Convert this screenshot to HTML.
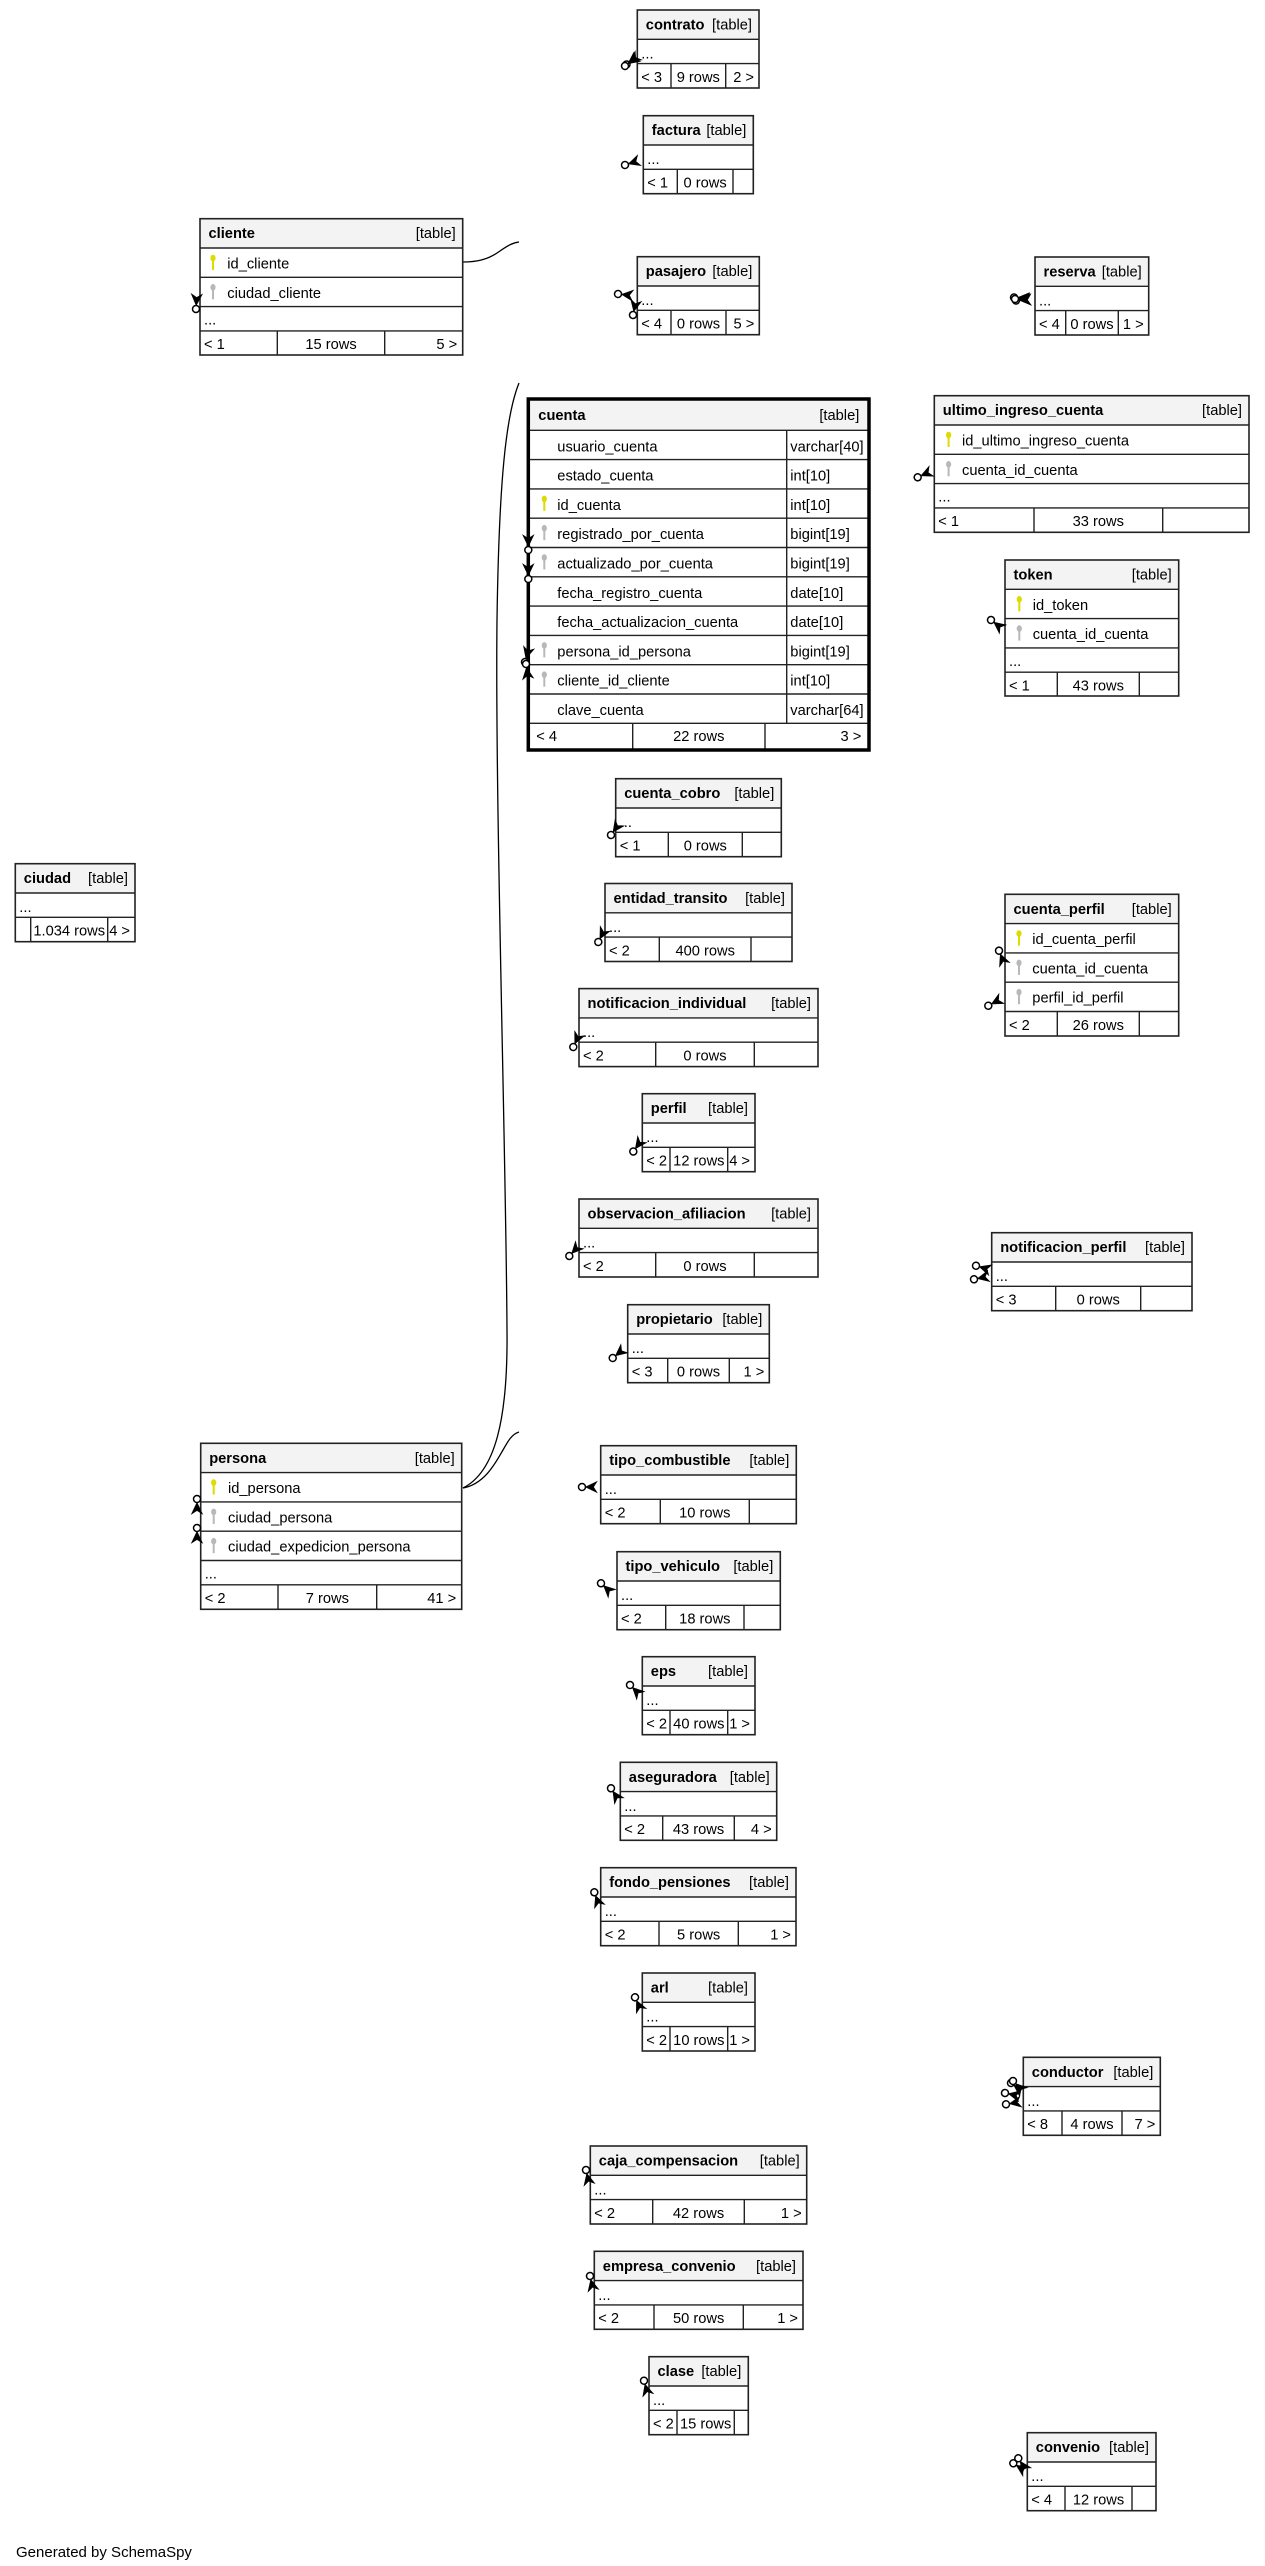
<!DOCTYPE html>
<html>
<head>
<meta charset="utf-8">
<style>
html,body{margin:0;padding:0;background:#fff;}
svg{display:block;}
text{font-family:"Liberation Sans",Arial,sans-serif;font-size:14.67px;fill:#000;}
.n{font-weight:bold;}
.e{text-anchor:end;}
.m{text-anchor:middle;}
.bg{fill:#fff;stroke:none;}
.hd{fill:#f3f3f3;stroke:none;}
.ln{fill:none;stroke:#222;stroke-width:1.4;}
.bx{fill:none;stroke:#222;stroke-width:1.6;}
.bxk{fill:none;stroke:#000;stroke-width:3.5;}
.cv{fill:none;stroke:#000;stroke-width:1.3;}
</style>
</head>
<body>
<svg width="1265" height="2566" viewBox="0 0 1265 2566" xmlns="http://www.w3.org/2000/svg">
<defs>
<g id="pk"><ellipse cx="0" cy="10" rx="2.6" ry="3.3" fill="#dcdc00"/><rect x="-1" y="12" width="2" height="10" fill="#dcdc00"/></g>
<g id="fk"><ellipse cx="0" cy="10" rx="2.6" ry="3.3" fill="#b8b8b8"/><rect x="-1" y="12" width="2" height="10" fill="#b8b8b8"/></g>
<g id="mk"><circle r="3.5" fill="#fff" stroke="#000" stroke-width="1.5"/><path d="M3.5,0L15,-5.5L11.5,0L15,5.5Z" fill="#000" stroke="#000" stroke-width="0.6"/></g>
</defs>
<rect width="1265" height="2566" fill="#fff"/>

<!-- curves -->
<path class="cv" d="M463,262 C478,262 488,259 497,253 C506,247 511,243 519,242"/>
<path class="cv" d="M519,383 C506,415 499,480 497,620 C495,800 506,1150 507,1330 C508,1420 495,1472 463,1488"/>
<path class="cv" d="M463,1488 C485,1484 496,1462 503,1450 C508,1441 512,1434 519,1432"/>

<!-- contrato -->
<g transform="translate(637.3,10)">
<rect class="bg" width="121.7" height="78"/><rect class="hd" width="121.7" height="29.3"/>
<path class="ln" d="M0,29.3H121.7M0,53.6H121.7M33.7,53.6V78M88.4,53.6V78"/>
<rect class="bx" width="121.7" height="78"/>
<text class="n" x="8.5" y="19.5">contrato</text><text class="e" x="114.7" y="19.5">[table]</text>
<text x="4" y="48.5">...</text>
<text x="4" y="71.8">&lt; 3</text><text class="m" x="61" y="71.8">9 rows</text><text class="e" x="116.7" y="71.8">2 &gt;</text>
</g>

<!-- factura -->
<g transform="translate(643.3,115.7)">
<rect class="bg" width="110" height="78"/><rect class="hd" width="110" height="29.3"/>
<path class="ln" d="M0,29.3H110M0,53.6H110M34,53.6V78M89.7,53.6V78"/>
<rect class="bx" width="110" height="78"/>
<text class="n" x="8.5" y="19.5">factura</text><text class="e" x="103" y="19.5">[table]</text>
<text x="4" y="48.5">...</text>
<text x="4" y="71.8">&lt; 1</text><text class="m" x="61.85" y="71.8">0 rows</text>
</g>

<!-- pasajero -->
<g transform="translate(637.3,256.7)">
<rect class="bg" width="122" height="78"/><rect class="hd" width="122" height="29.3"/>
<path class="ln" d="M0,29.3H122M0,53.6H122M33.7,53.6V78M88.7,53.6V78"/>
<rect class="bx" width="122" height="78"/>
<text class="n" x="8.5" y="19.5">pasajero</text><text class="e" x="115" y="19.5">[table]</text>
<text x="4" y="48.5">...</text>
<text x="4" y="71.8">&lt; 4</text><text class="m" x="61.2" y="71.8">0 rows</text><text class="e" x="117" y="71.8">5 &gt;</text>
</g>

<!-- reserva -->
<g transform="translate(1035,257)">
<rect class="bg" width="113.7" height="78"/><rect class="hd" width="113.7" height="29.3"/>
<path class="ln" d="M0,29.3H113.7M0,53.6H113.7M30.7,53.6V78M83.3,53.6V78"/>
<rect class="bx" width="113.7" height="78"/>
<text class="n" x="8.5" y="19.5">reserva</text><text class="e" x="106.7" y="19.5">[table]</text>
<text x="4" y="48.5">...</text>
<text x="4" y="71.8">&lt; 4</text><text class="m" x="57" y="71.8">0 rows</text><text class="e" x="108.7" y="71.8">1 &gt;</text>
</g>

<!-- cliente -->
<g transform="translate(200,218.7)">
<rect class="bg" width="262.7" height="136.3"/><rect class="hd" width="262.7" height="29.3"/>
<path class="ln" d="M0,29.3H262.7M0,58.6H262.7M0,87.9H262.7M0,112.2H262.7M77.3,112.2V136.3M184.7,112.2V136.3"/>
<rect class="bx" width="262.7" height="136.3"/>
<text class="n" x="8.5" y="19.5">cliente</text><text class="e" x="255.7" y="19.5">[table]</text>
<use href="#pk" x="13" y="29.3"/><text x="27.3" y="49.8">id_cliente</text>
<use href="#fk" x="13" y="58.6"/><text x="27.3" y="79.1">ciudad_cliente</text>
<text x="4" y="106">...</text>
<text x="4" y="130.3">&lt; 1</text><text class="m" x="131" y="130.3">15 rows</text><text class="e" x="257.2" y="130.3">5 &gt;</text>
</g>

<!-- cuenta -->
<g transform="translate(528.3,399)">
<rect class="bg" width="340.7" height="351"/><rect class="hd" width="340.7" height="31.3"/>
<path class="ln" stroke="#000" d="M0,31.3H340.7M0,60.6H340.7M0,89.9H340.7M0,119.2H340.7M0,148.5H340.7M0,177.8H340.7M0,207.1H340.7M0,236.4H340.7M0,265.7H340.7M0,295H340.7M0,324.3H340.7M258.4,31.3V324.3M104.4,324.3V351M236.7,324.3V351"/>
<rect class="bxk" width="340.7" height="351"/>
<text class="n" x="10" y="21">cuenta</text><text class="e" x="331" y="21">[table]</text>
<text x="29" y="52.3">usuario_cuenta</text><text x="262" y="52.3">varchar[40]</text>
<text x="29" y="81.6">estado_cuenta</text><text x="262" y="81.6">int[10]</text>
<use href="#pk" x="16" y="89.9"/><text x="29" y="110.9">id_cuenta</text><text x="262" y="110.9">int[10]</text>
<use href="#fk" x="16" y="119.2"/><text x="29" y="140.2">registrado_por_cuenta</text><text x="262" y="140.2">bigint[19]</text>
<use href="#fk" x="16" y="148.5"/><text x="29" y="169.5">actualizado_por_cuenta</text><text x="262" y="169.5">bigint[19]</text>
<text x="29" y="198.8">fecha_registro_cuenta</text><text x="262" y="198.8">date[10]</text>
<text x="29" y="228.1">fecha_actualizacion_cuenta</text><text x="262" y="228.1">date[10]</text>
<use href="#fk" x="16" y="236.4"/><text x="29" y="257.4">persona_id_persona</text><text x="262" y="257.4">bigint[19]</text>
<use href="#fk" x="16" y="265.7"/><text x="29" y="286.7">cliente_id_cliente</text><text x="262" y="286.7">int[10]</text>
<text x="29" y="316">clave_cuenta</text><text x="262" y="316">varchar[64]</text>
<text x="8" y="342">&lt; 4</text><text class="m" x="170.5" y="342">22 rows</text><text class="e" x="333" y="342">3 &gt;</text>
</g>

<!-- ultimo_ingreso_cuenta -->
<g transform="translate(934.3,395.7)">
<rect class="bg" width="314.7" height="136.6"/><rect class="hd" width="314.7" height="29.3"/>
<path class="ln" d="M0,29.3H314.7M0,58.6H314.7M0,87.9H314.7M0,112.2H314.7M99.7,112.2V136.6M228.4,112.2V136.6"/>
<rect class="bx" width="314.7" height="136.6"/>
<text class="n" x="8.5" y="19.5">ultimo_ingreso_cuenta</text><text class="e" x="307.7" y="19.5">[table]</text>
<use href="#pk" x="14.3" y="29.3"/><text x="27.7" y="49.8">id_ultimo_ingreso_cuenta</text>
<use href="#fk" x="14.3" y="58.6"/><text x="27.7" y="79.1">cuenta_id_cuenta</text>
<text x="4" y="106">...</text>
<text x="4" y="130.5">&lt; 1</text><text class="m" x="164" y="130.5">33 rows</text>
</g>

<!-- token -->
<g transform="translate(1005,560)">
<rect class="bg" width="173.7" height="136"/><rect class="hd" width="173.7" height="29.3"/>
<path class="ln" d="M0,29.3H173.7M0,58.6H173.7M0,87.9H173.7M0,112.2H173.7M52.3,112.2V136M134.3,112.2V136"/>
<rect class="bx" width="173.7" height="136"/>
<text class="n" x="8.5" y="19.5">token</text><text class="e" x="166.7" y="19.5">[table]</text>
<use href="#pk" x="14.3" y="29.3"/><text x="27.7" y="49.8">id_token</text>
<use href="#fk" x="14.3" y="58.6"/><text x="27.7" y="79.1">cuenta_id_cuenta</text>
<text x="4" y="106">...</text>
<text x="4" y="130.3">&lt; 1</text><text class="m" x="93.3" y="130.3">43 rows</text>
</g>

<!-- ciudad -->
<g transform="translate(15.3,863.7)">
<rect class="bg" width="119.7" height="78"/><rect class="hd" width="119.7" height="29.3"/>
<path class="ln" d="M0,29.3H119.7M0,53.6H119.7M15.4,53.6V78M92.4,53.6V78"/>
<rect class="bx" width="119.7" height="78"/>
<text class="n" x="8.5" y="19.5">ciudad</text><text class="e" x="112.7" y="19.5">[table]</text>
<text x="4" y="48.5">...</text>
<text class="m" x="53.9" y="71.8">1.034 rows</text><text class="e" x="114.7" y="71.8">4 &gt;</text>
</g>

<!-- cuenta_cobro -->
<g transform="translate(615.7,778.7)">
<rect class="bg" width="165.6" height="78"/><rect class="hd" width="165.6" height="29.3"/>
<path class="ln" d="M0,29.3H165.6M0,53.6H165.6M52.6,53.6V78M126.6,53.6V78"/>
<rect class="bx" width="165.6" height="78"/>
<text class="n" x="8.5" y="19.5">cuenta_cobro</text><text class="e" x="158.6" y="19.5">[table]</text>
<text x="4" y="48.5">...</text>
<text x="4" y="71.8">&lt; 1</text><text class="m" x="89.6" y="71.8">0 rows</text>
</g>

<!-- entidad_transito -->
<g transform="translate(605,883.5)">
<rect class="bg" width="187" height="78"/><rect class="hd" width="187" height="29.3"/>
<path class="ln" d="M0,29.3H187M0,53.6H187M54.3,53.6V78M146,53.6V78"/>
<rect class="bx" width="187" height="78"/>
<text class="n" x="8.5" y="19.5">entidad_transito</text><text class="e" x="180" y="19.5">[table]</text>
<text x="4" y="48.5">...</text>
<text x="4" y="71.8">&lt; 2</text><text class="m" x="100.2" y="71.8">400 rows</text>
</g>

<!-- notificacion_individual -->
<g transform="translate(579,988.6)">
<rect class="bg" width="239" height="78"/><rect class="hd" width="239" height="29.3"/>
<path class="ln" d="M0,29.3H239M0,53.6H239M76.7,53.6V78M175.3,53.6V78"/>
<rect class="bx" width="239" height="78"/>
<text class="n" x="8.5" y="19.5">notificacion_individual</text><text class="e" x="232" y="19.5">[table]</text>
<text x="4" y="48.5">...</text>
<text x="4" y="71.8">&lt; 2</text><text class="m" x="126" y="71.8">0 rows</text>
</g>

<!-- perfil -->
<g transform="translate(642.3,1093.7)">
<rect class="bg" width="112.7" height="78"/><rect class="hd" width="112.7" height="29.3"/>
<path class="ln" d="M0,29.3H112.7M0,53.6H112.7M27.7,53.6V78M85.4,53.6V78"/>
<rect class="bx" width="112.7" height="78"/>
<text class="n" x="8.5" y="19.5">perfil</text><text class="e" x="105.7" y="19.5">[table]</text>
<text x="4" y="48.5">...</text>
<text x="4" y="71.8">&lt; 2</text><text class="m" x="56.55" y="71.8">12 rows</text><text class="e" x="107.7" y="71.8">4 &gt;</text>
</g>

<!-- observacion_afiliacion -->
<g transform="translate(579,1199)">
<rect class="bg" width="239" height="78"/><rect class="hd" width="239" height="29.3"/>
<path class="ln" d="M0,29.3H239M0,53.6H239M76.7,53.6V78M175.3,53.6V78"/>
<rect class="bx" width="239" height="78"/>
<text class="n" x="8.5" y="19.5">observacion_afiliacion</text><text class="e" x="232" y="19.5">[table]</text>
<text x="4" y="48.5">...</text>
<text x="4" y="71.8">&lt; 2</text><text class="m" x="126" y="71.8">0 rows</text>
</g>

<!-- propietario -->
<g transform="translate(627.7,1304.7)">
<rect class="bg" width="141.6" height="78"/><rect class="hd" width="141.6" height="29.3"/>
<path class="ln" d="M0,29.3H141.6M0,53.6H141.6M40,53.6V78M101.6,53.6V78"/>
<rect class="bx" width="141.6" height="78"/>
<text class="n" x="8.5" y="19.5">propietario</text><text class="e" x="134.6" y="19.5">[table]</text>
<text x="4" y="48.5">...</text>
<text x="4" y="71.8">&lt; 3</text><text class="m" x="70.8" y="71.8">0 rows</text><text class="e" x="136.6" y="71.8">1 &gt;</text>
</g>

<!-- cuenta_perfil -->
<g transform="translate(1005,894.3)">
<rect class="bg" width="173.7" height="141.7"/><rect class="hd" width="173.7" height="29.3"/>
<path class="ln" d="M0,29.3H173.7M0,58.6H173.7M0,87.9H173.7M0,117.2H173.7M52.3,117.2V141.7M134.3,117.2V141.7"/>
<rect class="bx" width="173.7" height="141.7"/>
<text class="n" x="8.5" y="19.5">cuenta_perfil</text><text class="e" x="166.7" y="19.5">[table]</text>
<use href="#pk" x="14" y="29.3"/><text x="27.3" y="49.8">id_cuenta_perfil</text>
<use href="#fk" x="14" y="58.6"/><text x="27.3" y="79.1">cuenta_id_cuenta</text>
<use href="#fk" x="14" y="87.9"/><text x="27.3" y="108.4">perfil_id_perfil</text>
<text x="4" y="135.5">&lt; 2</text><text class="m" x="93.3" y="135.5">26 rows</text>
</g>

<!-- notificacion_perfil -->
<g transform="translate(991.7,1232.7)">
<rect class="bg" width="200.3" height="78"/><rect class="hd" width="200.3" height="29.3"/>
<path class="ln" d="M0,29.3H200.3M0,53.6H200.3M64,53.6V78M149,53.6V78"/>
<rect class="bx" width="200.3" height="78"/>
<text class="n" x="8.5" y="19.5">notificacion_perfil</text><text class="e" x="193.3" y="19.5">[table]</text>
<text x="4" y="48.5">...</text>
<text x="4" y="71.8">&lt; 3</text><text class="m" x="106.5" y="71.8">0 rows</text>
</g>

<!-- persona -->
<g transform="translate(200.7,1443.3)">
<rect class="bg" width="261" height="166"/><rect class="hd" width="261" height="29.3"/>
<path class="ln" d="M0,29.3H261M0,58.6H261M0,87.9H261M0,117.2H261M0,141.5H261M77.3,141.5V166M176,141.5V166"/>
<rect class="bx" width="261" height="166"/>
<text class="n" x="8.5" y="19.5">persona</text><text class="e" x="254" y="19.5">[table]</text>
<use href="#pk" x="13" y="29.3"/><text x="27.3" y="49.8">id_persona</text>
<use href="#fk" x="13" y="58.6"/><text x="27.3" y="79.1">ciudad_persona</text>
<use href="#fk" x="13" y="87.9"/><text x="27.3" y="108.4">ciudad_expedicion_persona</text>
<text x="4" y="135.3">...</text>
<text x="4" y="159.6">&lt; 2</text><text class="m" x="126.65" y="159.6">7 rows</text><text class="e" x="255.5" y="159.6">41 &gt;</text>
</g>

<!-- tipo_combustible -->
<g transform="translate(600.7,1445.7)">
<rect class="bg" width="195.6" height="78"/><rect class="hd" width="195.6" height="29.3"/>
<path class="ln" d="M0,29.3H195.6M0,53.6H195.6M59.6,53.6V78M148.6,53.6V78"/>
<rect class="bx" width="195.6" height="78"/>
<text class="n" x="8.5" y="19.5">tipo_combustible</text><text class="e" x="188.6" y="19.5">[table]</text>
<text x="4" y="48.5">...</text>
<text x="4" y="71.8">&lt; 2</text><text class="m" x="104.1" y="71.8">10 rows</text>
</g>

<!-- tipo_vehiculo -->
<g transform="translate(617,1551.7)">
<rect class="bg" width="163.3" height="78"/><rect class="hd" width="163.3" height="29.3"/>
<path class="ln" d="M0,29.3H163.3M0,53.6H163.3M48.7,53.6V78M127,53.6V78"/>
<rect class="bx" width="163.3" height="78"/>
<text class="n" x="8.5" y="19.5">tipo_vehiculo</text><text class="e" x="156.3" y="19.5">[table]</text>
<text x="4" y="48.5">...</text>
<text x="4" y="71.8">&lt; 2</text><text class="m" x="87.85" y="71.8">18 rows</text>
</g>

<!-- eps -->
<g transform="translate(642.3,1656.7)">
<rect class="bg" width="112.7" height="78"/><rect class="hd" width="112.7" height="29.3"/>
<path class="ln" d="M0,29.3H112.7M0,53.6H112.7M27.7,53.6V78M85.4,53.6V78"/>
<rect class="bx" width="112.7" height="78"/>
<text class="n" x="8.5" y="19.5">eps</text><text class="e" x="105.7" y="19.5">[table]</text>
<text x="4" y="48.5">...</text>
<text x="4" y="71.8">&lt; 2</text><text class="m" x="56.55" y="71.8">40 rows</text><text class="e" x="107.7" y="71.8">1 &gt;</text>
</g>

<!-- aseguradora -->
<g transform="translate(620.3,1762.3)">
<rect class="bg" width="156.4" height="78"/><rect class="hd" width="156.4" height="29.3"/>
<path class="ln" d="M0,29.3H156.4M0,53.6H156.4M42.4,53.6V78M114,53.6V78"/>
<rect class="bx" width="156.4" height="78"/>
<text class="n" x="8.5" y="19.5">aseguradora</text><text class="e" x="149.4" y="19.5">[table]</text>
<text x="4" y="48.5">...</text>
<text x="4" y="71.8">&lt; 2</text><text class="m" x="78.2" y="71.8">43 rows</text><text class="e" x="151.4" y="71.8">4 &gt;</text>
</g>

<!-- fondo_pensiones -->
<g transform="translate(600.7,1867.7)">
<rect class="bg" width="195.3" height="78"/><rect class="hd" width="195.3" height="29.3"/>
<path class="ln" d="M0,29.3H195.3M0,53.6H195.3M58.3,53.6V78M137.6,53.6V78"/>
<rect class="bx" width="195.3" height="78"/>
<text class="n" x="8.5" y="19.5">fondo_pensiones</text><text class="e" x="188.3" y="19.5">[table]</text>
<text x="4" y="48.5">...</text>
<text x="4" y="71.8">&lt; 2</text><text class="m" x="97.95" y="71.8">5 rows</text><text class="e" x="190.3" y="71.8">1 &gt;</text>
</g>

<!-- arl -->
<g transform="translate(642.3,1973)">
<rect class="bg" width="112.7" height="78"/><rect class="hd" width="112.7" height="29.3"/>
<path class="ln" d="M0,29.3H112.7M0,53.6H112.7M27.7,53.6V78M85.4,53.6V78"/>
<rect class="bx" width="112.7" height="78"/>
<text class="n" x="8.5" y="19.5">arl</text><text class="e" x="105.7" y="19.5">[table]</text>
<text x="4" y="48.5">...</text>
<text x="4" y="71.8">&lt; 2</text><text class="m" x="56.55" y="71.8">10 rows</text><text class="e" x="107.7" y="71.8">1 &gt;</text>
</g>

<!-- conductor -->
<g transform="translate(1023.3,2057.3)">
<rect class="bg" width="137" height="78"/><rect class="hd" width="137" height="29.3"/>
<path class="ln" d="M0,29.3H137M0,53.6H137M38.7,53.6V78M98.7,53.6V78"/>
<rect class="bx" width="137" height="78"/>
<text class="n" x="8.5" y="19.5">conductor</text><text class="e" x="130" y="19.5">[table]</text>
<text x="4" y="48.5">...</text>
<text x="4" y="71.8">&lt; 8</text><text class="m" x="68.7" y="71.8">4 rows</text><text class="e" x="132" y="71.8">7 &gt;</text>
</g>

<!-- caja_compensacion -->
<g transform="translate(590.3,2146)">
<rect class="bg" width="216.4" height="78"/><rect class="hd" width="216.4" height="29.3"/>
<path class="ln" d="M0,29.3H216.4M0,53.6H216.4M62.4,53.6V78M154,53.6V78"/>
<rect class="bx" width="216.4" height="78"/>
<text class="n" x="8.5" y="19.5">caja_compensacion</text><text class="e" x="209.4" y="19.5">[table]</text>
<text x="4" y="48.5">...</text>
<text x="4" y="71.8">&lt; 2</text><text class="m" x="108.2" y="71.8">42 rows</text><text class="e" x="211.4" y="71.8">1 &gt;</text>
</g>

<!-- empresa_convenio -->
<g transform="translate(594.3,2251.3)">
<rect class="bg" width="208.7" height="78"/><rect class="hd" width="208.7" height="29.3"/>
<path class="ln" d="M0,29.3H208.7M0,53.6H208.7M59.7,53.6V78M149,53.6V78"/>
<rect class="bx" width="208.7" height="78"/>
<text class="n" x="8.5" y="19.5">empresa_convenio</text><text class="e" x="201.7" y="19.5">[table]</text>
<text x="4" y="48.5">...</text>
<text x="4" y="71.8">&lt; 2</text><text class="m" x="104.35" y="71.8">50 rows</text><text class="e" x="203.7" y="71.8">1 &gt;</text>
</g>

<!-- clase -->
<g transform="translate(649,2356.7)">
<rect class="bg" width="99.3" height="78"/><rect class="hd" width="99.3" height="29.3"/>
<path class="ln" d="M0,29.3H99.3M0,53.6H99.3M28,53.6V78M85.3,53.6V78"/>
<rect class="bx" width="99.3" height="78"/>
<text class="n" x="8.5" y="19.5">clase</text><text class="e" x="92.3" y="19.5">[table]</text>
<text x="4" y="48.5">...</text>
<text x="4" y="71.8">&lt; 2</text><text class="m" x="56.65" y="71.8">15 rows</text>
</g>

<!-- convenio -->
<g transform="translate(1027.3,2432.7)">
<rect class="bg" width="128.7" height="78"/><rect class="hd" width="128.7" height="29.3"/>
<path class="ln" d="M0,29.3H128.7M0,53.6H128.7M37.7,53.6V78M104.7,53.6V78"/>
<rect class="bx" width="128.7" height="78"/>
<text class="n" x="8.5" y="19.5">convenio</text><text class="e" x="121.7" y="19.5">[table]</text>
<text x="4" y="48.5">...</text>
<text x="4" y="71.8">&lt; 4</text><text class="m" x="71.2" y="71.8">12 rows</text>
</g>

<!-- relationship markers -->
<use href="#mk" transform="translate(626.5,64.5) rotate(-37)"/>
<use href="#mk" transform="translate(625,66) rotate(-37)"/>
<use href="#mk" transform="translate(625,165) rotate(-18)"/>
<use href="#mk" transform="translate(618,294) rotate(6)"/>
<use href="#mk" transform="translate(633,315) rotate(-78)"/>
<use href="#mk" transform="translate(528.3,550) rotate(-90)"/>
<use href="#mk" transform="translate(528.3,579) rotate(-90)"/>
<use href="#mk" transform="translate(525,662) rotate(-75)"/>
<use href="#mk" transform="translate(526,664) rotate(82)"/>
<use href="#mk" transform="translate(196,309) rotate(-87)"/>
<use href="#mk" transform="translate(197,1499) rotate(90)"/>
<use href="#mk" transform="translate(197,1528) rotate(90)"/>
<use href="#mk" transform="translate(611,835) rotate(-55)"/>
<use href="#mk" transform="translate(598.3,942) rotate(-63)"/>
<use href="#mk" transform="translate(573.3,1047) rotate(-65)"/>
<use href="#mk" transform="translate(633.3,1151.5) rotate(-54)"/>
<use href="#mk" transform="translate(569.3,1256) rotate(-47)"/>
<use href="#mk" transform="translate(612.7,1358) rotate(-39)"/>
<use href="#mk" transform="translate(582,1487) rotate(0)"/>
<use href="#mk" transform="translate(601,1583.3) rotate(43)"/>
<use href="#mk" transform="translate(630,1685) rotate(45)"/>
<use href="#mk" transform="translate(611,1788.3) rotate(57)"/>
<use href="#mk" transform="translate(594.3,1892.3) rotate(69)"/>
<use href="#mk" transform="translate(635,1997.3) rotate(65)"/>
<use href="#mk" transform="translate(586,2170) rotate(77)"/>
<use href="#mk" transform="translate(590,2276) rotate(77)"/>
<use href="#mk" transform="translate(644,2380.7) rotate(74)"/>
<use href="#mk" transform="translate(1014,297.5) rotate(3)"/>
<use href="#mk" transform="translate(1016,300.5) rotate(-3)"/>
<use href="#mk" transform="translate(1015,299) rotate(0)"/>
<use href="#mk" transform="translate(917.7,477.3) rotate(-24)"/>
<use href="#mk" transform="translate(991,620) rotate(38)"/>
<use href="#mk" transform="translate(999,950.7) rotate(68)"/>
<use href="#mk" transform="translate(988.3,1005.7) rotate(-28)"/>
<use href="#mk" transform="translate(976,1265.7) rotate(17)"/>
<use href="#mk" transform="translate(974,1279.3) rotate(-12)"/>
<use href="#mk" transform="translate(1011,2083) rotate(37)"/>
<use href="#mk" transform="translate(1013,2081) rotate(45)"/>
<use href="#mk" transform="translate(1005,2093) rotate(12)"/>
<use href="#mk" transform="translate(1006,2104.3) rotate(-10)"/>
<use href="#mk" transform="translate(1013.3,2463.3) rotate(33)"/>
<use href="#mk" transform="translate(1018.3,2458.3) rotate(57)"/>

<text x="16" y="2557" style="font-size:15px">Generated by SchemaSpy</text>
</svg>
</body>
</html>
